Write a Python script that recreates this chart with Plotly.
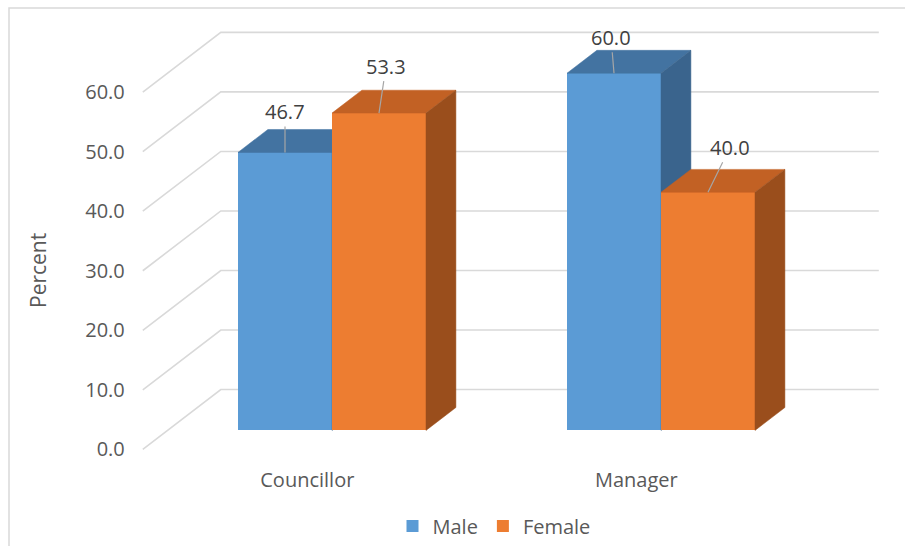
import plotly.graph_objects as go

# ---- data -------------------------------------------------------------
categories = ["Councillor", "Manager"]
series_names = ["Male", "Female"]
male = [46.7, 60.0]
female = [53.3, 40.0]
y_ticks = [0, 10, 20, 30, 40, 50, 60]

# ---- canvas / oblique 3-D projection ----------------------------------
W, H = 905, 546
PX_CAT = 329.0       # pixels per category step
PX_UNIT = 5.975      # pixels per percent
ORIGIN_X = 307.3     # pixel x of the first category on the floor's front edge
ORIGIN_Y = 451.0     # pixel y of 0 % on the floor's front edge

DEPTH_X = 78.0 / PX_CAT     # full floor depth, in category units
DEPTH_Y = 60.0 / PX_UNIT    # full floor depth, in percent units
BAR_Z0, BAR_Z1 = 19 / 60, 42 / 60   # front / back of the bar row (0..1 of depth)
BAR_W = 94.0 / PX_CAT

x_range = [(0 - ORIGIN_X) / PX_CAT, (W - ORIGIN_X) / PX_CAT]
y_range = [(ORIGIN_Y - H) / PX_UNIT, ORIGIN_Y / PX_UNIT]
bar_x_range = [r - BAR_Z0 * DEPTH_X for r in x_range]
bar_y_range = [r - BAR_Z0 * DEPTH_Y for r in y_range]
bar_dx = (BAR_Z1 - BAR_Z0) * DEPTH_X
bar_dy = (BAR_Z1 - BAR_Z0) * DEPTH_Y

COLORS = {
    "Male": {"front": "#5B9BD5", "top": "#4373A1", "side": "#3A648D"},
    "Female": {"front": "#ED7D31", "top": "#C26124", "side": "#9A4E1C"},
}
GRID = "#D9D9D9"
TEXT = "#595959"
LABEL = "#404040"

fig = go.Figure()

# ---- wall / floor gridlines (front edge -> back wall -> right end) ----
c_lo, c_hi = -0.5, len(categories) - 0.5
gx, gy = [], []
for v in y_ticks:
    gx += [c_lo, c_lo + DEPTH_X, c_hi + DEPTH_X, None]
    gy += [v, v + DEPTH_Y, v + DEPTH_Y, None]
fig.add_trace(go.Scatter(x=gx, y=gy, mode="lines", line=dict(color=GRID, width=1.6),
                         hoverinfo="skip", showlegend=False))


def add_series(name, values, offset, xa, ya):
    col = COLORS[name]
    fig.add_trace(go.Bar(
        x=list(range(len(categories))), y=values, name=name,
        offset=offset, width=BAR_W, marker=dict(color=col["front"], line=dict(width=0)),
        xaxis=xa, yaxis=ya, hovertext=categories, showlegend=True,
    ))
    for i, v in enumerate(values):
        x0 = i + offset
        x1 = x0 + BAR_W
        # top face
        fig.add_trace(go.Scatter(
            x=[x0, x1, x1 + bar_dx, x0 + bar_dx, x0],
            y=[v, v, v + bar_dy, v + bar_dy, v],
            mode="lines", fill="toself", fillcolor=col["top"],
            line=dict(width=0.5, color=col["top"]),
            xaxis=xa, yaxis=ya, hoverinfo="skip", showlegend=False))
        # right side face
        fig.add_trace(go.Scatter(
            x=[x1, x1, x1 + bar_dx, x1 + bar_dx, x1],
            y=[0, v, v + bar_dy, bar_dy, 0],
            mode="lines", fill="toself", fillcolor=col["side"],
            line=dict(width=0.5, color=col["side"]),
            xaxis=xa, yaxis=ya, hoverinfo="skip", showlegend=False))


add_series("Male", male, -BAR_W, "x2", "y2")
add_series("Female", female, 0.0, "x3", "y3")

# ---- data labels with leader lines ------------------------------------
label_offsets = {"Male": [(0, -41), (-3, -36)], "Female": [(7, -47), (22, -45)]}
annotations = []
for name, values, off, xr, yr in [("Male", male, -BAR_W / 2, "x2", "y2"),
                                  ("Female", female, BAR_W / 2, "x3", "y3")]:
    for i, v in enumerate(values):
        ax, ay = label_offsets[name][i]
        annotations.append(dict(
            x=i + off, y=v, xref=xr, yref=yr, text=f"{v:.1f}",
            showarrow=True, arrowhead=0, arrowwidth=1.2, arrowcolor="#A6A6A6",
            ax=ax, ay=ay, font=dict(size=20, color=LABEL)))

annotations.append(dict(
    x=38 / W, y=1 - 272 / H, xref="paper", yref="paper", text="Percent",
    xanchor="center", yanchor="middle",
    textangle=-90, showarrow=False, font=dict(size=21, color=TEXT)))

fig.update_layout(
    width=W, height=H, margin=dict(l=0, r=0, t=0, b=0),
    paper_bgcolor="white", plot_bgcolor="rgba(0,0,0,0)",
    font=dict(family="Open Sans", size=20, color=TEXT),
    xaxis=dict(range=x_range, tickvals=list(range(len(categories))), ticktext=categories,
               anchor="free", position=1 - ORIGIN_Y / H, showgrid=False, zeroline=False,
               showline=False, ticks="", ticklabelstandoff=17, fixedrange=True),
    yaxis=dict(range=y_range, tickvals=y_ticks, tickformat=".1f",
               anchor="free", position=(ORIGIN_X + c_lo * PX_CAT) / W,
               showgrid=False, zeroline=False, showline=False, ticks="",
               ticklabelstandoff=18, fixedrange=True),
    xaxis2=dict(range=bar_x_range, overlaying="x", anchor="y2", visible=False),
    yaxis2=dict(range=bar_y_range, overlaying="y", anchor="x2", visible=False),
    xaxis3=dict(range=bar_x_range, overlaying="x", anchor="y3", visible=False),
    yaxis3=dict(range=bar_y_range, overlaying="y", anchor="x3", visible=False),
    legend=dict(orientation="h", x=494 / W, xanchor="center", y=1 - 528 / H, yanchor="middle",
                font=dict(size=20, color=TEXT), bgcolor="rgba(0,0,0,0)"),
    annotations=annotations,
    shapes=[dict(type="rect", xref="paper", yref="paper", x0=9 / W, x1=1.05,
                 y0=-0.05, y1=1 - 8 / H, line=dict(color=GRID, width=1.5))],
    bargap=0, showlegend=True,
)

fig.write_html("out.html")
